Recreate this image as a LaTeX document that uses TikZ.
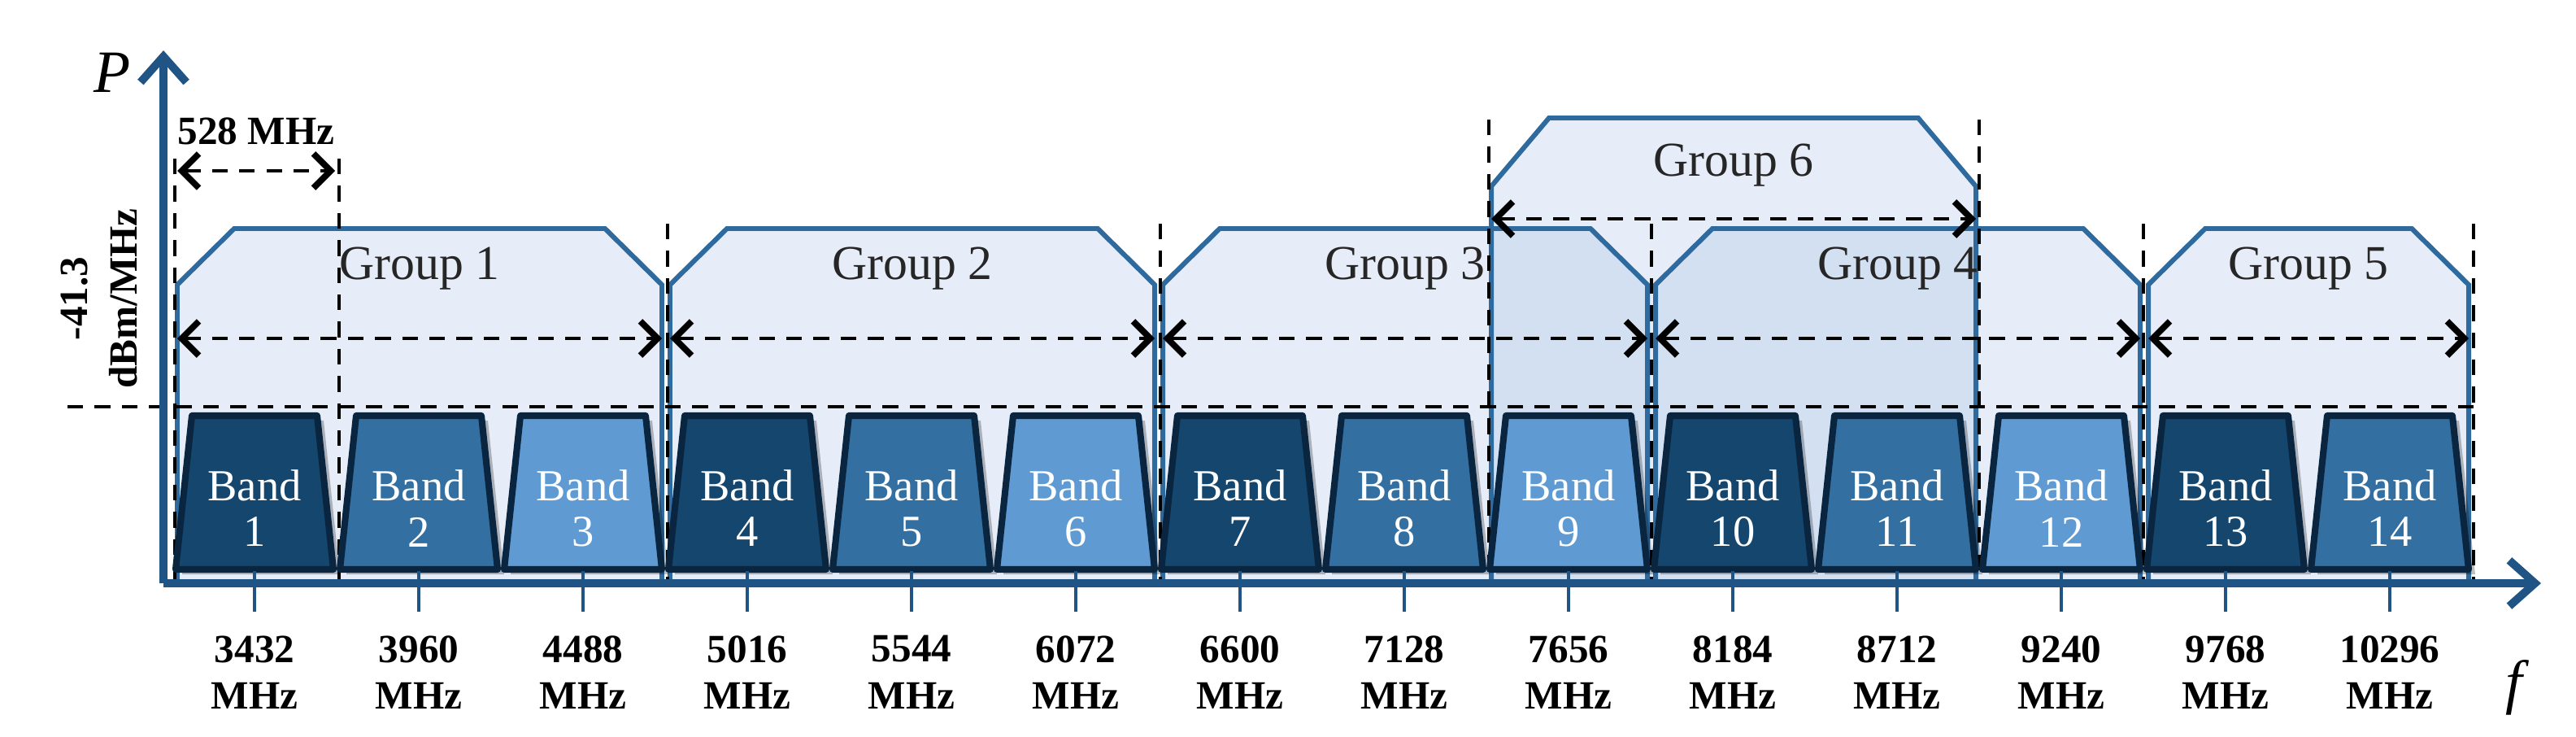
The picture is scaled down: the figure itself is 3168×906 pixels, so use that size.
\documentclass[tikz,border=0pt]{standalone}
\usepackage{fontspec}
\setmainfont{Liberation Serif}
\usetikzlibrary{arrows.meta}
\definecolor{gfill}{HTML}{E6EDF8}
\definecolor{gdark}{HTML}{D3E0F1}
\definecolor{gline}{HTML}{2F6A9E}
\definecolor{axis}{HTML}{1F5485}
\definecolor{bA}{HTML}{14466E}
\definecolor{bB}{HTML}{336FA0}
\definecolor{bC}{HTML}{5F9BD2}
\definecolor{bline}{HTML}{0A2540}
\begin{document}
\begin{tikzpicture}[x=0.01cm,y=-0.01cm,
  grp/.style={draw=gline,line width=1.7pt,line join=miter},
  band/.style={draw=bline,line width=2.3pt,line join=round},
  dsh/.style={black,line width=1.4pt,dash pattern=on 5.5pt off 4pt},
  dim/.style={dsh,{Straight Barb[length=6pt,width=12pt,line width=2.2pt]}-{Straight Barb[length=6pt,width=12pt,line width=2.2pt]}},
  btxt/.style={white,font=\fontsize{15.5}{16}\selectfont},
  gtxt/.style={black!85,font=\fontsize{17}{18}\selectfont},
  ftxt/.style={font=\fontsize{14}{15}\selectfont\bfseries,align=center}]
\useasboundingbox (0,0) rectangle (3168,906);
% group 6 fill
\def\gsix{(1834,715)--(1834,229)--(1905,145)--(2359,145)--(2430,229)--(2430,715)--cycle}
\fill[gfill] \gsix;
% groups 1-5
\foreach \k/\l/\r in {1/218/814,2/824/1420,3/1430/2026,4/2036/2632,5/2642/3036}{
  \fill[gfill] (\l,715)--(\l,350)--(\l+70,281)--(\r-70,281)--(\r,350)--(\r,715)--cycle;
}
\begin{scope}
\clip \gsix;
\foreach \l/\r in {1430/2026,2036/2632}{
  \fill[gdark] (\l,715)--(\l,350)--(\l+70,281)--(\r-70,281)--(\r,350)--(\r,715)--cycle;}
\end{scope}
\draw[grp] \gsix;
\foreach \k/\l/\r in {1/218/814,2/824/1420,3/1430/2026,4/2036/2632,5/2642/3036}{
  \draw[grp] (\l,715)--(\l,350)--(\l+70,281)--(\r-70,281)--(\r,350)--(\r,715);
  \node[gtxt] (g\k) at ({(\l+\r)/2},330) {Group \k};
  \coordinate (gl\k) at (\l,416); \coordinate (gr\k) at (\r,416);
  \draw[dim] (gl\k) -- (gr\k);
}
\node[gtxt] (g6) at (2132,203) {Group 6};
\coordinate (gl6) at (1834,269); \coordinate (gr6) at (2430,269);
\draw[dim] (gl6) -- (gr6);
% threshold
\coordinate (t0) at (83,500); \coordinate (t1) at (3042,500);
\draw[dsh] (t0) -- (t1);
% verticals
\foreach \x/\y in {215/195,417/195,821/275,1427/275,2031/275,2636/275,3042/275,1831/147,2434/147}{
  \coordinate (va) at (\x,\y); \coordinate (vb) at (\x,712);
  \draw[dsh] (va) -- (vb);}
% 528 MHz
\coordinate (ma) at (218,210); \coordinate (mb) at (412,210);
\draw[dim] (ma) -- (mb);
\node[ftxt] (m528) at (315,161) {528 MHz};
% bands
\foreach \i/\c/\f in {1/bA/3432,2/bB/3960,3/bC/4488,4/bA/5016,5/bB/5544,6/bC/6072,7/bA/6600,8/bB/7128,9/bC/7656,10/bA/8184,11/bB/8712,12/bC/9240,13/bA/9768,14/bB/10296}{
  \pgfmathsetmacro{\L}{212+(\i-1)*202}
  \fill[black,opacity=0.25] (\L+12,706)--(\L+32,517)--(\L+186,517)--(\L+206,706)--cycle;
  \draw[band,fill=\c] (\L+4,700)--(\L+24,511)--(\L+178,511)--(\L+198,700)--cycle;
  \node[btxt] (bt\i) at (\L+101,597) {Band};
  \node[btxt] (bn\i) at (\L+101,654) {\i};
  \coordinate (ta\i) at (\L+101,702); \coordinate (tb\i) at (\L+101,752);
  \draw[axis,line width=1.2pt] (ta\i) -- (tb\i);
  \node[ftxt] (fq\i) at (\L+101,798) {\f};
  \node[ftxt] (fm\i) at (\L+101,855) {MHz};
}
% axes
\coordinate (o) at (201,717); \coordinate (py) at (201,62); \coordinate (px) at (3125,717);
\draw[axis,line width=2.8pt,-{Straight Barb[length=9pt,width=16pt,line width=2.8pt]}] (o) -- (py);
\draw[axis,line width=2.8pt,-{Straight Barb[length=9pt,width=16pt,line width=2.8pt]}] (o) -- (px);
\node[font=\fontsize{21}{22}\selectfont\itshape] (P) at (138,89) {P};
\node[font=\fontsize{21}{22}\selectfont\itshape] (f) at (3092,845) {f};
\node[ftxt,rotate=90] (l1) at (92,367) {-41.3};
\node[ftxt,rotate=90] (l2) at (152,367) {dBm/MHz};
\end{tikzpicture}
\end{document}
